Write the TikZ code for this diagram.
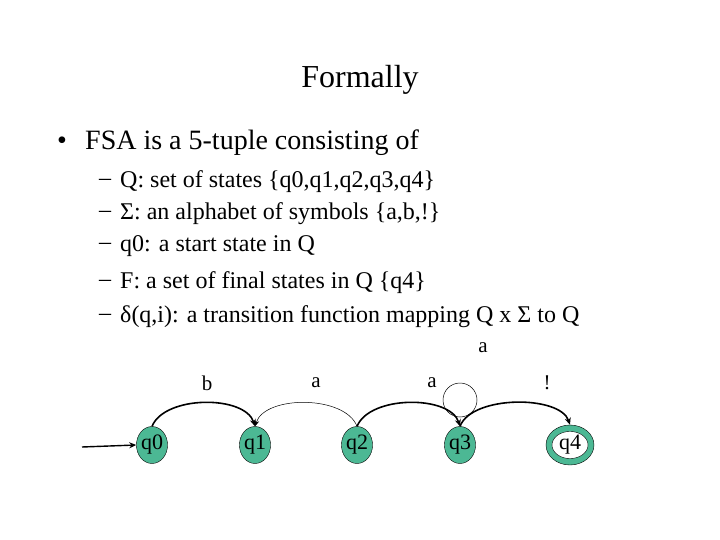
\documentclass[tikz,border=0pt]{standalone}
\usepackage{fontspec}
\setmainfont{Liberation Serif}
\usetikzlibrary{arrows.meta,shapes.geometric}
\begin{document}
\begin{tikzpicture}[x=1pt,y=-1pt,
  st/.style={ellipse,draw=black,fill=teal!80!green!70,minimum width=31pt,minimum height=37pt,inner sep=0pt,font=\fontsize{22}{24}\selectfont},
  txt/.style={anchor=west,inner sep=0pt,font=\fontsize{24}{28}\selectfont},
  lab/.style={inner sep=0pt,font=\fontsize{21}{24}\selectfont},
  thk/.style={line width=1.6pt,-{Stealth[length=7pt,width=6pt]}},
  thn/.style={line width=0.5pt,-{Stealth[length=6pt,width=5pt]}}]
\useasboundingbox (0,0) rectangle (720,540);
\node[font=\fontsize{32}{36}\selectfont] (title) at (360,80) {Formally};
\node[txt,font=\fontsize{28}{32}\selectfont] (b0) at (57,143) {•};
\node[txt,font=\fontsize{28}{32}\selectfont] (l0) at (85,143) {FSA is a 5-tuple consisting of};
\foreach \y/\t [count=\i] in {182/{Q: set of states \{q0,q1,q2,q3,q4\}},214/{Σ: an alphabet of symbols \{a,b,!\}},246/{q0: a start state in Q},283/{F: a set of final states in Q \{q4\}},317/{δ(q,i): a transition function mapping Q x Σ to Q}}{
  \node[txt] (d\i) at (99,\y) {–};
  \node[txt] (s\i) at (120,\y) {\t};
}
\node[st] (q0) at (152,445) {q0};
\node[st] (q1) at (255,445) {q1};
\node[st] (q2) at (357,445) {q2};
\node[st] (q3) at (460,445) {q3};
\node[ellipse,draw=black,fill=teal!80!green!70,minimum width=48pt,minimum height=40pt,inner sep=0pt] (q4) at (570,445) {};
\node[ellipse,draw=black,fill=white,minimum width=36pt,minimum height=22pt,inner sep=0pt,font=\fontsize{22}{24}\selectfont] (q4i) at (570,445) {q4};
\coordinate (start) at (82,447);
\draw[line width=1.4pt,-{Stealth[length=7pt,width=6pt]}] (start) -- (q0.west);
\draw[thk] (q0.north) .. controls (165,395) and (245,395) .. (q1.north);
\draw[thn] (q2.north) .. controls (345,395) and (265,395) .. (q1.north);
\draw[thk] (q2.north) .. controls (370,395) and (450,395) .. (q3.north);
\draw[thk] (q3.north) .. controls (472,395) and (560,395) .. (q4.north);
\node[circle,draw=black,line width=0.5pt,minimum size=34pt,inner sep=0pt] (loop) at (460,400) {};
\node[lab] (lb) at (207,383) {b};
\node[lab] (la1) at (316,383) {a};
\node[lab] (la2) at (432,383) {a};
\node[lab] (le) at (547,383) {!};
\node[lab] (la3) at (483,348) {a};
\end{tikzpicture}
\end{document}
